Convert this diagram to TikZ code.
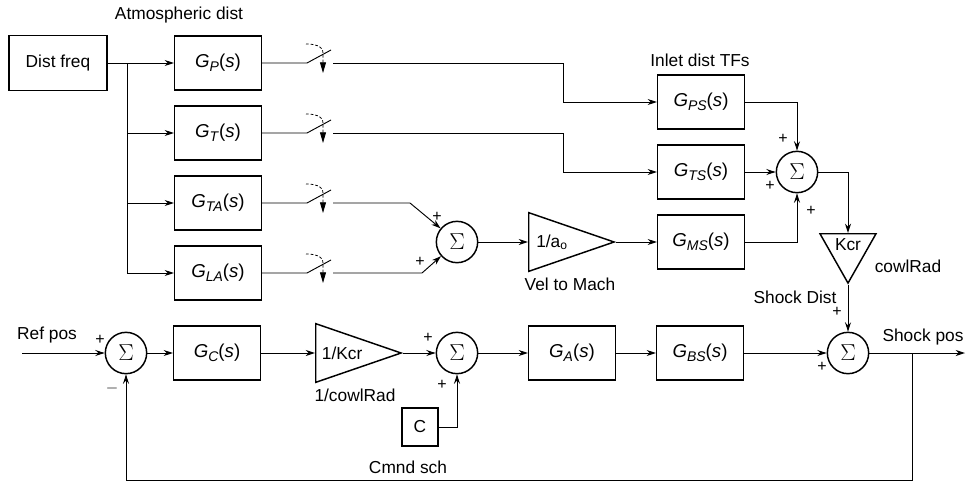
\documentclass[tikz,border=0pt]{standalone}
\usepackage{fontspec}
\setmainfont{Liberation Sans}
\usetikzlibrary{positioning,shapes.geometric,arrows.meta}
\newcommand{\gtf}[1]{\textit{G}\raisebox{-0.45ex}{\fontsize{10.5}{11}\selectfont\textit{#1}}(\textit{s})}

\begin{document}
\begin{tikzpicture}[x=0.75pt,y=-0.75pt,node distance=52.5pt,font=\fontsize{13}{15}\selectfont]

\tikzstyle{block} = [rectangle, draw=black, line width=1.1pt, minimum width=65pt, minimum height=40.5pt, font=\fontsize{14}{16}\selectfont]
\tikzstyle{sum} = [circle, draw=black, line width=1.1pt, minimum size=31pt, inner sep=0pt, font=\fontsize{17}{18}\selectfont]
\tikzstyle{gain} = [isosceles triangle, isosceles triangle stretches, draw=black, line width=1.1pt, inner sep=1pt, minimum width=44pt, minimum height=64pt]
\tikzstyle{arrow} = [line width=0.7pt,->,>={Stealth[length=7pt,width=4.5pt]}]
\tikzstyle{wire} = [line width=0.7pt]
\tikzstyle{sign} = [font=\fontsize{12}{13}\selectfont, inner sep=0pt]
\tikzstyle{swarrow} = [line width=0.6pt, dash pattern=on 2pt off 1.5pt, -{Triangle[length=8pt,width=4.5pt]}]

\useasboundingbox (0,0) rectangle (967,482);

% disturbance side
\node (df) [block, minimum width=73.5pt, minimum height=41.25pt, font=\fontsize{13}{15}\selectfont] at (58,63) {Dist freq};
\node (atm) at (179,15) {Atmospheric dist};
\node (gp) [block] at (218,63) {\gtf{P}};
\node (gt) [block, below of=gp] {\gtf{T}};
\node (gta) [block, below of=gt] {\gtf{TA}};
\node (gla) [block, below of=gta] {\gtf{LA}};

\coordinate (split) at (127,63);
\coordinate (s1a) at (307,63);
\coordinate (s1b) at (333,63);
\coordinate (s2a) at (307,133);
\coordinate (s2b) at (333,133);
\coordinate (s3a) at (307,203);
\coordinate (s3b) at (333,203);
\coordinate (s4a) at (307,273);
\coordinate (s4b) at (333,273);

\node (sum1) [sum] at (457,242) {$\Sigma$};
\node (atri) [gain, anchor=lower side] at (528,242) {1/a\textsubscript{o}};
\node (vm) at (570,284) {Vel to Mach};

\node (gps) [block] at (701,102) {\gtf{PS}};
\node (inl) at (700,60) {Inlet dist TFs};
\node (gts) [block, below of=gps] {\gtf{TS}};
\node (gms) [block, below of=gts] {\gtf{MS}};
\node (sum2) [sum] at (797,172) {$\Sigma$};
\node (ktri) [gain, shape border rotate=270, minimum width=42pt, minimum height=33pt, anchor=lower side] at (848,233) {Kcr};
\node (cr) at (908,266) {cowlRad};

% loop
\node (sum0) [sum] at (126,353) {$\Sigma$};
\node (rp) at (47,335) {Ref pos};
\node (gc) [block] at (217,353) {\gtf{C}};
\node (ktri2) [gain, anchor=lower side] at (315,353) {1/Kcr};
\node (cwr) at (355,395) {1/cowlRad};
\node (sum4) [sum] at (457,353) {$\Sigma$};
\node (cbox) [block, minimum width=27pt, minimum height=28.5pt, font=\fontsize{13}{15}\selectfont] at (420,427) {C};
\node (cs) at (408,467) {Cmnd sch};
\node (ga) [block] at (572,353) {\gtf{A}};
\node (gbs) [block] at (700,353) {\gtf{BS}};
\node (sum3) [sum] at (848,353) {$\Sigma$};
\node (sd) at (795,297) {Shock Dist};
\node (sp) at (923,337) {Shock pos};

\coordinate (refin) at (22,353);
\coordinate (out) at (965,353);
\coordinate (fb) at (912,353);

% signs
\node (p1) [sign] at (437,217) {+};
\node (p2) [sign] at (420,262) {+};
\node (p3) [sign] at (783,139) {+};
\node (p4) [sign] at (770,186) {+};
\node (p5) [sign] at (811,211) {+};
\node (p6) [sign] at (837,312) {+};
\node (p7) [sign] at (822,367) {+};
\node (p8) [sign] at (100,340) {+};
\node (m1) [sign] at (112,388) {$-$};
\node (p9) [sign] at (428,338) {+};
\node (p10) [sign] at (442,385) {+};

% switches
\draw [wire] (gp) -- (s1a) -- ++(24,-13);
\draw [swarrow] (s1a) ++(-1,-19) to[out=0,in=90] ++(17,9) -- ++(0,20);
\draw [wire] (gt) -- (s2a) -- ++(24,-13);
\draw [swarrow] (s2a) ++(-1,-19) to[out=0,in=90] ++(17,9) -- ++(0,20);
\draw [wire] (gta) -- (s3a) -- ++(24,-13);
\draw [swarrow] (s3a) ++(-1,-19) to[out=0,in=90] ++(17,9) -- ++(0,20);
\draw [wire] (gla) -- (s4a) -- ++(24,-13);
\draw [swarrow] (s4a) ++(-1,-19) to[out=0,in=90] ++(17,9) -- ++(0,20);

\draw [arrow] (df) -- (gp);
\draw [arrow] (split) |- (gt);
\draw [arrow] (split) |- (gta);
\draw [arrow] (split) |- (gla);
\draw [arrow] (s1b) -- ++(230,0) |- (gps);
\draw [arrow] (s2b) -- ++(230,0) |- (gts);
\draw [arrow] (s3b) -- ++(77,0) -- (sum1);
\draw [arrow] (s4b) -- ++(89,0) -- (sum1);
\draw [arrow] (sum1) -- (atri.lower side);
\draw [arrow] (atri.apex) -- (gms);
\draw [arrow] (gps) -| (sum2);
\draw [arrow] (gts) -- (sum2);
\draw [arrow] (gms) -| (sum2);
\draw [arrow] (sum2) -| (ktri.lower side);
\draw [arrow] (ktri.apex) -- (sum3);

\draw [arrow] (refin) -- (sum0);
\draw [arrow] (sum0) -- (gc);
\draw [arrow] (gc) -- (ktri2.lower side);
\draw [arrow] (ktri2.apex) -- (sum4);
\draw [arrow] (cbox) -| (sum4);
\draw [arrow] (sum4) -- (ga);
\draw [arrow] (ga) -- (gbs);
\draw [arrow] (gbs) -- (sum3);
\draw [arrow] (sum3) -- (out);
\draw [arrow] (fb) -- ++(0,127) -| (sum0);

\end{tikzpicture}
\end{document}
